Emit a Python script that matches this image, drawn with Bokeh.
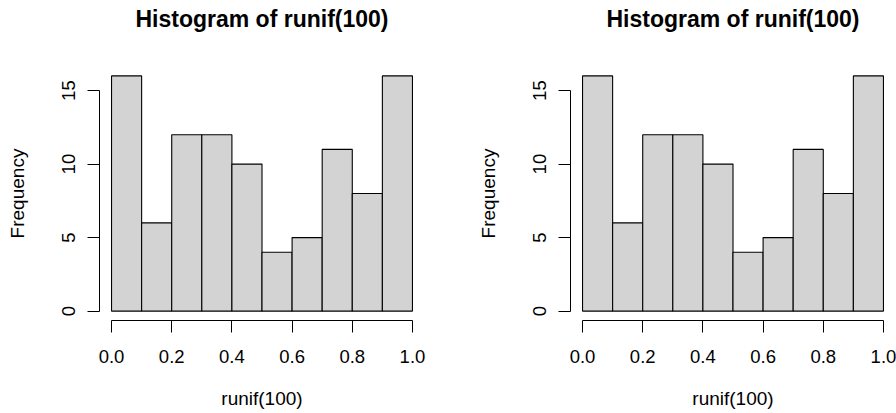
from bokeh.plotting import figure
from bokeh.models import Range1d, FixedTicker, ColumnDataSource, LinearAxis
from bokeh.layouts import row
from bokeh.embed import file_html
from bokeh.resources import INLINE

bin_edges = [0.0, 0.1, 0.2, 0.3, 0.4, 0.5, 0.6, 0.7, 0.8, 0.9, 1.0]
counts = [16, 6, 12, 12, 10, 4, 5, 11, 8, 16]
xticks = [0.0, 0.2, 0.4, 0.6, 0.8, 1.0]
xtick_labels = ["0.0", "0.2", "0.4", "0.6", "0.8", "1.0"]
yticks = [0, 5, 10, 15]
ytick_labels = ["0", "5", "10", "15"]
title_text = "Histogram of runif(100)"
xlabel = "runif(100)"
ylabel = "Frequency"

FONT = "Liberation Sans"


def make_panel(b_left, b_right):
    src = ColumnDataSource(dict(left=bin_edges[:-1], right=bin_edges[1:],
                                top=counts, bottom=[0] * len(counts)))
    p = figure(width=448, height=413, output_backend="svg", toolbar_location=None,
               x_range=Range1d(-0.04, 1.04), y_range=Range1d(-0.64, 16.64),
               min_border_left=b_left, min_border_right=b_right,
               min_border_top=66, min_border_bottom=93, title=None)
    p.quad(left="left", right="right", top="top", bottom="bottom", source=src,
           fill_color="#d3d3d3", line_color="black", line_width=1.1)
    p.grid.visible = False
    p.outline_line_color = None
    p.background_fill_color = "white"
    p.border_fill_color = "white"

    xa = p.below[0]
    ya = p.left[0]

    # main title, drawn as the single centred label of a bare top axis
    centre = (bin_edges[0] + bin_edges[-1]) / 2
    top_ax = LinearAxis(ticker=FixedTicker(ticks=[centre]),
                        major_label_overrides={centre: title_text},
                        axis_line_color=None, major_tick_line_color=None,
                        minor_tick_line_color=None, major_tick_out=0, major_tick_in=0,
                        major_label_standoff=35,
                        major_label_text_font=FONT, major_label_text_font_size="23px",
                        major_label_text_font_style="bold", major_label_text_color="black")
    p.add_layout(top_ax, "above")

    xa.ticker = FixedTicker(ticks=xticks)
    xa.major_label_overrides = {t: l for t, l in zip(xticks, xtick_labels)}
    xa.bounds = (xticks[0], xticks[-1])
    xa.axis_label = xlabel
    ya.ticker = FixedTicker(ticks=yticks)
    ya.major_label_overrides = {t: l for t, l in zip(yticks, ytick_labels)}
    ya.bounds = (yticks[0], yticks[-1])
    ya.axis_label = ylabel
    ya.major_label_orientation = "vertical"

    for ax in (xa, ya):
        ax.axis_line_color = "black"
        ax.axis_line_width = 1
        ax.major_tick_line_color = "black"
        ax.major_tick_out = 12
        ax.major_tick_in = 0
        ax.minor_tick_line_color = None
        ax.major_label_text_font = FONT
        ax.major_label_text_font_size = "18.5px"
        ax.major_label_text_color = "black"
        ax.axis_label_text_font = FONT
        ax.axis_label_text_font_size = "19px"
        ax.axis_label_text_font_style = "normal"
        ax.axis_label_text_color = "black"
    xa.major_label_standoff = 17
    xa.axis_label_standoff = 22
    ya.major_label_standoff = 12
    ya.axis_label_standoff = 32
    return p


p1 = make_panel(99, 24)
p2 = make_panel(122, 1)

layout = row(p1, p2)
open("out.html", "w").write(file_html(layout, INLINE))
